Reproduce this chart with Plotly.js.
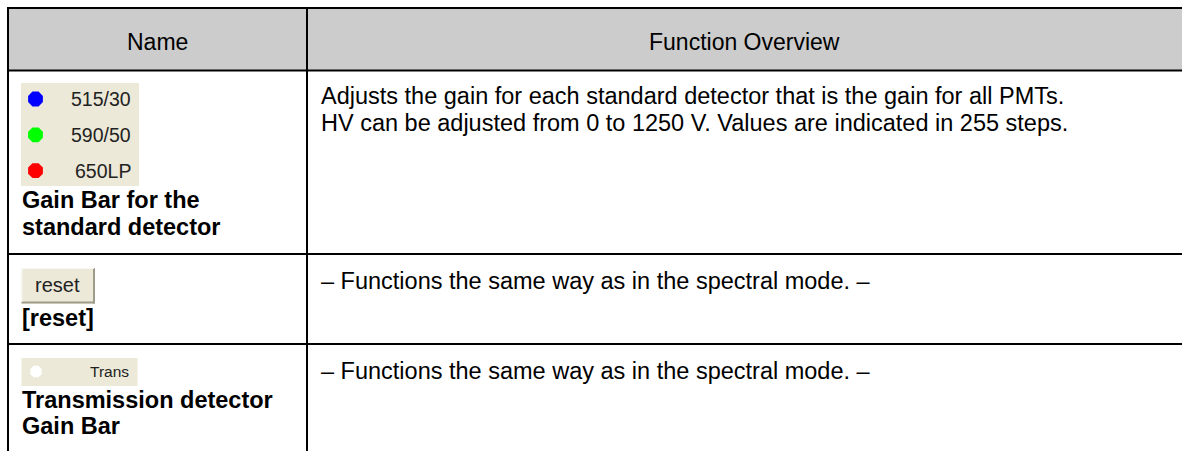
<!DOCTYPE html>
<html>
<head>
<meta charset="utf-8">
<script src="https://cdn.plot.ly/plotly-3.0.1.min.js"></script>
<style>html,body{margin:0;padding:0;background:#fff;}#chart{width:1182px;height:451px;}</style>
</head>
<body>
<div id="chart"></div>
<script>
// ---- table content ----
const headers = ['Name', 'Function Overview'];
const rowNames = [
  ['Gain Bar for the', 'standard detector'],
  ['[reset]'],
  ['Transmission detector', 'Gain Bar']
];
const rowOverviews = [
  ['Adjusts the gain for each standard detector that is the gain for all PMTs.',
   'HV can be adjusted from 0 to 1250 V. Values are indicated in 255 steps.'],
  ['\u2013 Functions the same way as in the spectral mode. \u2013'],
  ['\u2013 Functions the same way as in the spectral mode. \u2013']
];
const detectorLabels = ['515/30', '590/50', '650LP'];
const detectorColors = ['#0000FF', '#00FF00', '#FF0000'];
const resetLabel = 'reset';
const transLabel = 'Trans';
const transColor = '#FFFFFF';

// ---- layout geometry ----
const W = 1182, H = 451;
const tableLeft = 8, tableTop = 8, colSplit = 307;
const rowEdges = [70.5, 254, 344];       // header bottom, row1 bottom, row2 bottom
const FONT = 'Liberation Sans, Arial, Helvetica, sans-serif';
const headerFill = '#CCCCCC';
const widgetFill = '#ECE9D8';
const lh = 26.5;                         // text line pitch

const shapes = [];
shapes.push({type:'rect', x0:tableLeft, x1:W+5, y0:tableTop, y1:rowEdges[0], fillcolor:headerFill, line:{width:0}, layer:'below'});
const blk = {color:'#000', width:2};
shapes.push({type:'line', x0:tableLeft-1, x1:W+5, y0:tableTop, y1:tableTop, line:blk});
shapes.push({type:'line', x0:tableLeft, x1:tableLeft, y0:tableTop-1, y1:H+5, line:blk});
shapes.push({type:'line', x0:colSplit, x1:colSplit, y0:tableTop, y1:H+5, line:blk});
rowEdges.forEach(y => shapes.push({type:'line', x0:tableLeft, x1:W+5, y0:y, y1:y, line:blk}));

const annotations = [];
function ann(text, x, y, size, xanchor, color) {
  annotations.push({text:text, x:x, y:y, xref:'x', yref:'y', xanchor:xanchor||'left', yanchor:'middle',
    showarrow:false, font:{family:FONT, size:size, color:color||'#000'}, borderpad:0});
}
// header
ann(headers[0], (tableLeft+colSplit)/2, 41.5, 23, 'center');
ann(headers[1], (colSplit+W)/2, 41.5, 23, 'center');

// overview column
const ovTop = [96, 281, 371];
rowOverviews.forEach((lines, r) => lines.forEach((t, i) => ann(t, 320, ovTop[r] + i*lh, 23.5)));

// name column bold labels
const nameTop = [200, 318, 399.5];
rowNames.forEach((lines, r) => lines.forEach((t, i) => ann('<b>'+t+'</b>', 21, nameTop[r] + i*lh, 23.5)));

// ---- widget 1: standard detector gain bar ----
shapes.push({type:'rect', x0:21, x1:139, y0:83, y1:186, fillcolor:widgetFill, line:{width:0}, layer:'below'});
const dotY0 = 99, dotStep = 35.8;
const dotYs = detectorLabels.map((_, i) => dotY0 + i*dotStep);
detectorLabels.forEach((t, i) => ann(t, 131.5, dotYs[i], 19.5, 'right', '#222'));

// ---- widget 2: reset button ----
shapes.push({type:'rect', x0:21.5, x1:95, y0:268, y1:303.5, fillcolor:widgetFill, line:{width:0}, layer:'below'});
shapes.push({type:'line', x0:21.5, x1:95, y0:302.5, y1:302.5, line:{color:'#9E9B8A', width:2}});
shapes.push({type:'line', x0:94, x1:94, y0:268, y1:303.5, line:{color:'#9E9B8A', width:2}});
shapes.push({type:'line', x0:21.5, x1:94, y0:268.5, y1:268.5, line:{color:'#F7F6F0', width:1}});
shapes.push({type:'line', x0:22, x1:22, y0:268, y1:302, line:{color:'#F7F6F0', width:1}});
ann(resetLabel, 57.5, 284.5, 20, 'center', '#222');

// ---- widget 3: transmission gain bar ----
shapes.push({type:'rect', x0:21.5, x1:137.5, y0:358, y1:386, fillcolor:widgetFill, line:{width:0}, layer:'below'});
const transY = 371.5;
ann(transLabel, 129.5, transY, 15.5, 'right', '#222');

const traces = [
  {type:'scatter', mode:'markers', x:detectorLabels.map(() => 35.5), y:dotYs,
   marker:{symbol:'octagon', size:16, color:detectorColors, line:{width:0}}, hoverinfo:'skip', showlegend:false},
  {type:'scatter', mode:'markers', x:[36], y:[transY],
   marker:{symbol:'octagon', size:12.5, color:transColor, line:{width:0}}, hoverinfo:'skip', showlegend:false}
];

const layout = {
  width:W, height:H, margin:{l:0, r:0, t:0, b:0},
  paper_bgcolor:'#fff', plot_bgcolor:'#fff',
  xaxis:{range:[0, W], visible:false, fixedrange:true},
  yaxis:{range:[H, 0], visible:false, fixedrange:true},
  shapes:shapes, annotations:annotations, showlegend:false
};
Plotly.newPlot('chart', traces, layout, {displayModeBar:false, staticPlot:true});
</script>
</body>
</html>
